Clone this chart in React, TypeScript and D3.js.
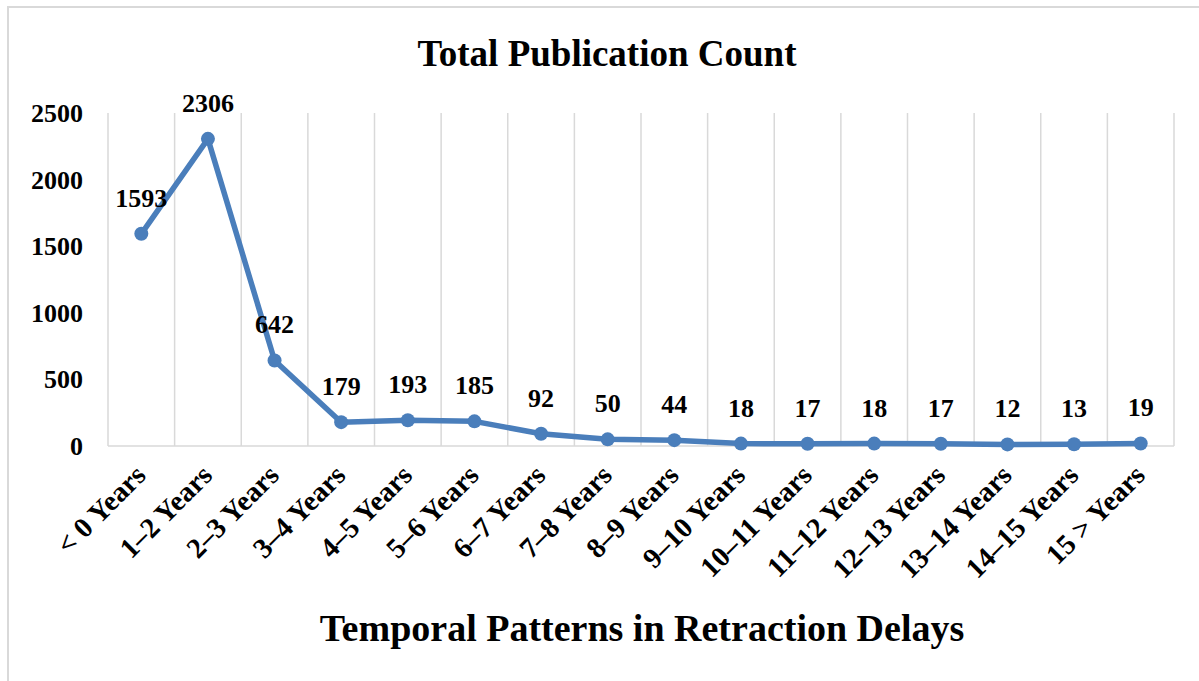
import * as d3 from 'd3';

const CATEGORIES = [
  '< 0 Years', '1–2 Years', '2–3 Years', '3–4 Years', '4–5 Years', '5–6 Years',
  '6–7 Years', '7–8 Years', '8–9 Years', '9–10 Years', '10–11 Years', '11–12 Years',
  '12–13 Years', '13–14 Years', '14–15 Years', '15 > Years',
];
const COUNTS = [1593, 2306, 642, 179, 193, 185, 92, 50, 44, 18, 17, 18, 17, 12, 13, 19];
const Y_TICKS = [0, 500, 1000, 1500, 2000, 2500];

const W = 1199, H = 681;
const M = { left: 108, right: 1174, top: 113, bottom: 446 };
const FONT = "'Times New Roman', 'Liberation Serif', serif";
const LINE = '#4a7ebb';
const GRID = '#d9d9d9';

export default function App() {
  const x = d3.scaleBand<string>().domain(CATEGORIES).range([M.left, M.right]).padding(0);
  const y = d3.scaleLinear().domain([0, 2500]).range([M.bottom, M.top]);
  const cx = (c: string) => (x(c) ?? 0) + x.bandwidth() / 2;

  const pts: [number, number][] = CATEGORIES.map((c, i) => [cx(c), y(COUNTS[i])]);
  const path = d3.line()(pts) ?? '';

  // boundaries for vertical gridlines
  const bounds = [...CATEGORIES.map(c => x(c) ?? 0), M.right];

  return (
    <svg width={W} height={H} style={{ position: 'absolute', left: 0, top: 0, background: '#fff' }}
      fontFamily={FONT} fontWeight="bold">
      {/* chart frame */}
      <rect x={8} y={7} width={W + 10} height={H + 10} fill="none" stroke={GRID} strokeWidth={2} />

      <text x={607} y={66} textAnchor="middle" fontSize={37}>Total Publication Count</text>

      {bounds.map((b, i) => (
        <line key={i} x1={b} x2={b} y1={M.top} y2={M.bottom} stroke={GRID} strokeWidth={1.5} />
      ))}
      <line x1={M.left} x2={M.right} y1={M.bottom} y2={M.bottom} stroke={GRID} strokeWidth={1.5} />

      {Y_TICKS.map(t => (
        <text key={t} x={83} y={y(t) + 9} textAnchor="end" fontSize={26}>{t}</text>
      ))}

      <path d={path} fill="none" stroke={LINE} strokeWidth={5.5} strokeLinejoin="round" />
      {pts.map(([px, py], i) => (
        <circle key={i} cx={px} cy={py} r={7} fill={LINE} />
      ))}
      {pts.map(([px, py], i) => (
        <text key={'l' + i} x={px} y={py - 27} textAnchor="middle" fontSize={26}>{COUNTS[i]}</text>
      ))}

      {CATEGORIES.map(c => (
        <text key={c} transform={`translate(${cx(c) + 6},${M.bottom + 31}) rotate(-45)`}
          textAnchor="end" fontSize={28.5}>{c}</text>
      ))}

      <text x={642} y={641} textAnchor="middle" fontSize={38}>Temporal Patterns in Retraction Delays</text>
    </svg>
  );
}
